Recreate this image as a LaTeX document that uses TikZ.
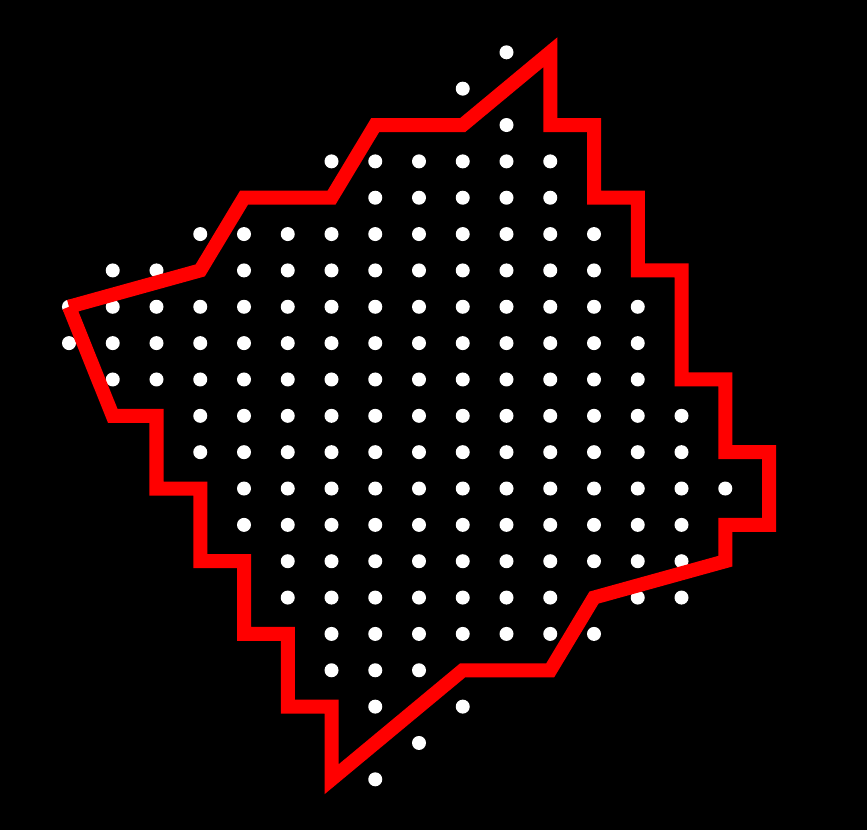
\documentclass[tikz,border=0pt]{standalone}
\usepackage{tikz}

\begin{document}
\begin{tikzpicture}[x=1.3125cm, y=-1.0905cm,
    lattice point/.style={fill=white},
    boundary/.style={draw=red, line width=0.42cm, line join=miter}]
    % Black frame, lattice units: 1 column = 43.75px, 1 row = 36.35px
    \fill[black] (-1.5771,-1.4388) rectangle (18.2400,21.3948);

    % Lattice points, row by row (row/columns)
    \foreach \r/\cols in {0/{10}, 1/{9}, 2/{10}, 3/{6,...,11}, 4/{7,...,11},
        5/{3,...,12}, 6/{1,2,4,5,...,12}, 7/{0,...,13}, 8/{0,...,13},
        9/{1,...,13}, 10/{3,...,14}, 11/{3,...,14}, 12/{4,...,15},
        13/{4,...,14}, 14/{5,...,14}, 15/{5,...,11,13,14}, 16/{6,...,12},
        17/{6,7,8}, 18/{7,9}, 19/{8}, 20/{7}}
        \foreach \c in \cols
            \fill[lattice point] (\c,\r) circle (0.21cm);

    % Boundary path, open: both ends meet at (0,7)
    \draw[boundary] (0,7) -- (3,6) -- (4,4) -- (6,4) -- (7,2) -- (9,2)
        -- (11,0) -- (11,2) -- (12,2) -- (12,4) -- (13,4) -- (13,6)
        -- (14,6) -- (14,9) -- (15,9) -- (15,11) -- (16,11) -- (16,13)
        -- (15,13) -- (15,14) -- (12,15) -- (11,17) -- (9,17) -- (6,20)
        -- (6,18) -- (5,18) -- (5,16) -- (4,16) -- (4,14) -- (3,14)
        -- (3,12) -- (2,12) -- (2,10) -- (1,10) -- (0,7);
\end{tikzpicture}
\end{document}
